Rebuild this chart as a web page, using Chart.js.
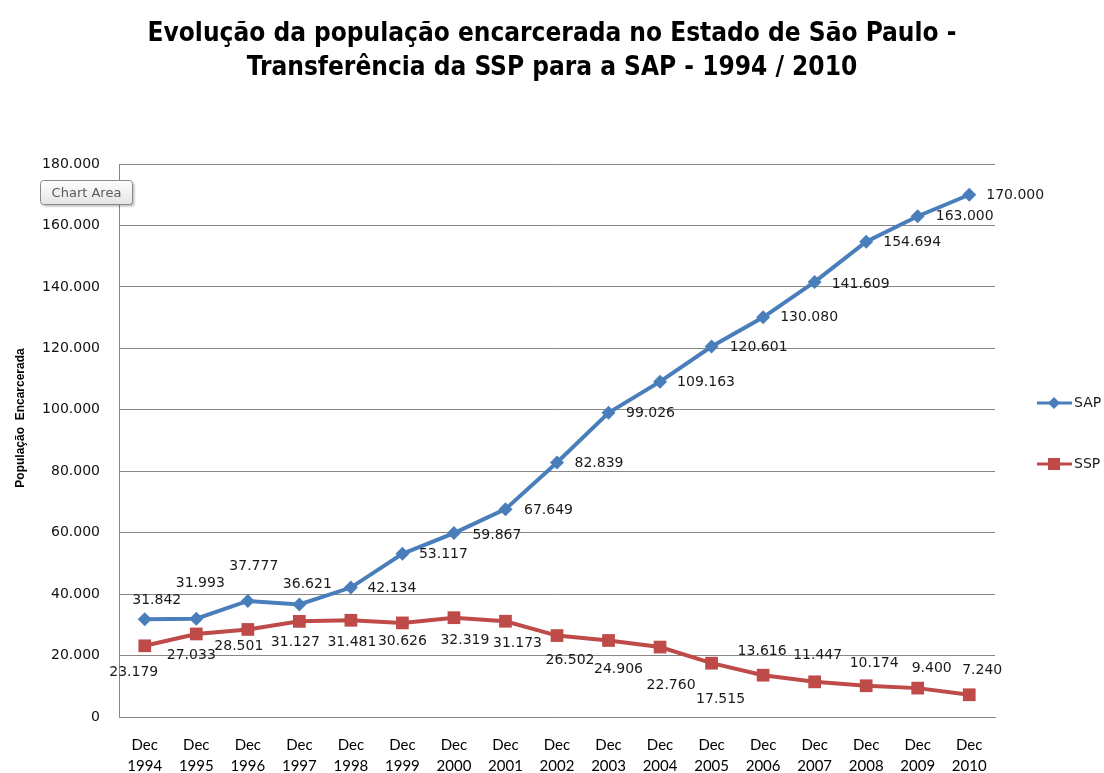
<!DOCTYPE html>
<html><head><meta charset="utf-8">
<script src="https://cdn.jsdelivr.net/npm/chart.js@4.4.0/dist/chart.umd.min.js"></script>
<style>html,body{margin:0;padding:0;background:#fff;overflow:hidden;}</style>
</head><body>
<canvas id="c" width="1104" height="773"></canvas>
<script>
// ---- data ----
const monthLabel = 'Dec';
const years = ['1994','1995','1996','1997','1998','1999','2000','2001','2002','2003','2004','2005','2006','2007','2008','2009','2010'];
const seriesNames = ['SAP', 'SSP'];
const sapValues = [31842, 31993, 37777, 36621, 42134, 53117, 59867, 67649, 82839, 99026, 109163, 120601, 130080, 141609, 154694, 163000, 170000];
const sspValues = [23179, 27033, 28501, 31127, 31481, 30626, 32319, 31173, 26502, 24906, 22760, 17515, 13616, 11447, 10174, 9400, 7240];
const yTickMin = 0, yTickMax = 180000, yTickStep = 20000;
const titleLines = ['Evolução da população encarcerada no Estado de São Paulo -', 'Transferência da SSP para a SAP - 1994 / 2010'];
const yAxisTitle = 'População  Encarcerada';

// ---- styling (label placement offsets, px) ----
const sapLabelOffsets = [[12,-19],[4,-35],[6,-35],[8,-20],[41,1],[41,1],[43,2],[43,1],[42,1],[42,1],[46,1],[47,1],[46,0],[46,2],[46,1],[47,0],[46,1]];
const sspLabelOffsets = [[-11,27],[-5,21],[-9,17],[-4,21],[1,22],[0,18],[11,23],[12,22],[13,25],[10,29],[11,38],[9,36],[-1,-24],[3,-26],[8,-22],[14,-20],[13,-24]];
const SAP_COLOR = '#4A7EBB', SSP_COLOR = '#BE4B48', GRID = '#868686';

const fmt = v => String(v).replace(/\B(?=(\d{3})+(?!\d))/g, '.');
const labels = years.map(y => [monthLabel, y]);

const dataLabelPlugin = {
  id: 'dataLabelPlugin',
  afterDatasetsDraw(chart) {
    const ctx = chart.ctx;
    ctx.save();
    ctx.font = '14px "DejaVu Sans", Verdana, sans-serif';
    ctx.fillStyle = '#1a1a1a';
    ctx.textAlign = 'center';
    ctx.textBaseline = 'middle';
    chart.data.datasets.forEach((ds, di) => {
      const meta = chart.getDatasetMeta(di);
      const offs = ds.labelOffsets;
      meta.data.forEach((pt, i) => {
        const o = offs[i];
        ctx.fillText(fmt(ds.data[i]), pt.x + o[0], pt.y + o[1]);
      });
    });
    ctx.restore();
  }
};

const extrasPlugin = {
  id: 'extrasPlugin',
  afterDraw(chart) {
    const ctx = chart.ctx;
    // y axis title
    ctx.save();
    ctx.translate(21, 418);
    ctx.rotate(-Math.PI / 2);
    ctx.font = 'bold 12px "Liberation Sans", Arial, sans-serif';
    ctx.fillStyle = '#000';
    ctx.textAlign = 'center';
    ctx.textBaseline = 'middle';
    ctx.fillText(yAxisTitle, 0, 0);
    ctx.restore();

    // legend
    const items = [
      {name: seriesNames[0], color: SAP_COLOR, style: 'diamond', y: 403},
      {name: seriesNames[1], color: SSP_COLOR, style: 'square', y: 464}
    ];
    ctx.save();
    items.forEach(it => {
      ctx.strokeStyle = it.color;
      ctx.lineWidth = 3;
      ctx.beginPath();
      ctx.moveTo(1037, it.y);
      ctx.lineTo(1072, it.y);
      ctx.stroke();
      ctx.fillStyle = it.color;
      ctx.beginPath();
      if (it.style === 'diamond') {
        ctx.moveTo(1054, it.y - 6); ctx.lineTo(1060, it.y); ctx.lineTo(1054, it.y + 6); ctx.lineTo(1048, it.y);
        ctx.closePath();
      } else {
        ctx.rect(1048, it.y - 6, 12, 12);
      }
      ctx.fill();
      ctx.fillStyle = '#1a1a1a';
      ctx.font = '14px "DejaVu Sans", Verdana, sans-serif';
      ctx.textAlign = 'left';
      ctx.textBaseline = 'middle';
      ctx.fillText(it.name, 1074, it.y);
    });
    ctx.restore();

    // "Chart Area" hover tag
    ctx.save();
    const bx = 40.5, by = 180.5, bw = 92, bh = 24, r = 3;
    ctx.shadowColor = 'rgba(0,0,0,0.25)';
    ctx.shadowOffsetX = 2; ctx.shadowOffsetY = 2; ctx.shadowBlur = 2;
    const g = ctx.createLinearGradient(0, by, 0, by + bh);
    g.addColorStop(0, '#ffffff'); g.addColorStop(1, '#e4e4e4');
    ctx.fillStyle = g;
    ctx.beginPath();
    ctx.roundRect(bx, by, bw, bh, r);
    ctx.fill();
    ctx.shadowColor = 'transparent';
    ctx.strokeStyle = '#8a8a8a';
    ctx.lineWidth = 1;
    ctx.stroke();
    ctx.fillStyle = '#5a5a5a';
    ctx.font = '13px "DejaVu Sans", Tahoma, sans-serif';
    ctx.textAlign = 'center';
    ctx.textBaseline = 'middle';
    ctx.fillText('Chart Area', bx + bw / 2, by + bh / 2 + 1);
    ctx.restore();
  }
};

new Chart(document.getElementById('c'), {
  type: 'line',
  data: {
    labels: labels,
    datasets: [
      {label: seriesNames[0], data: sapValues, borderColor: SAP_COLOR, backgroundColor: SAP_COLOR,
       borderWidth: 4, pointStyle: 'rectRot', pointRadius: 7, pointBorderWidth: 0, tension: 0, labelOffsets: sapLabelOffsets},
      {label: seriesNames[1], data: sspValues, borderColor: SSP_COLOR, backgroundColor: SSP_COLOR,
       borderWidth: 4, pointStyle: 'rect', pointRadius: 9, pointBorderWidth: 0, tension: 0, labelOffsets: sspLabelOffsets}
    ]
  },
  options: {
    responsive: false,
    animation: false,
    events: [],
    layout: {padding: {left: 0, right: 0, top: 0, bottom: 0}},
    plugins: {
      legend: {display: false},
      tooltip: {enabled: false},
      title: {
        display: true,
        text: titleLines,
        color: '#000',
        font: {family: '"DejaVu Sans Condensed", "Open Sans", sans-serif', size: 26, weight: 'bold', lineHeight: '34px'},
        padding: {top: 17, bottom: 79}
      }
    },
    scales: {
      x: {
        offset: true,
        grid: {display: false, drawTicks: false},
        border: {display: true, color: GRID, width: 1},
        ticks: {color: '#000', padding: 18, maxRotation: 0, autoSkip: false,
                font: {family: 'Lato, sans-serif', size: 15, lineHeight: '21px'}},
        afterFit(scale) { scale.height = 56; }
      },
      y: {
        min: yTickMin, max: yTickMax,
        grid: {color: GRID, lineWidth: 1, drawTicks: false},
        border: {display: true, color: GRID, width: 1},
        ticks: {stepSize: yTickStep, color: '#111', padding: 19,
                font: {family: '"DejaVu Sans", Verdana, sans-serif', size: 14},
                callback: v => fmt(v)},
        afterFit(scale) { scale.width = 119; }
      },
      legendSpace: {
        type: 'linear',
        position: 'right',
        display: true,
        grid: {display: false, drawTicks: false},
        border: {display: false},
        ticks: {display: false},
        afterFit(scale) { scale.width = 109; }
      }
    }
  },
  plugins: [dataLabelPlugin, extrasPlugin]
});
</script>
</body></html>
